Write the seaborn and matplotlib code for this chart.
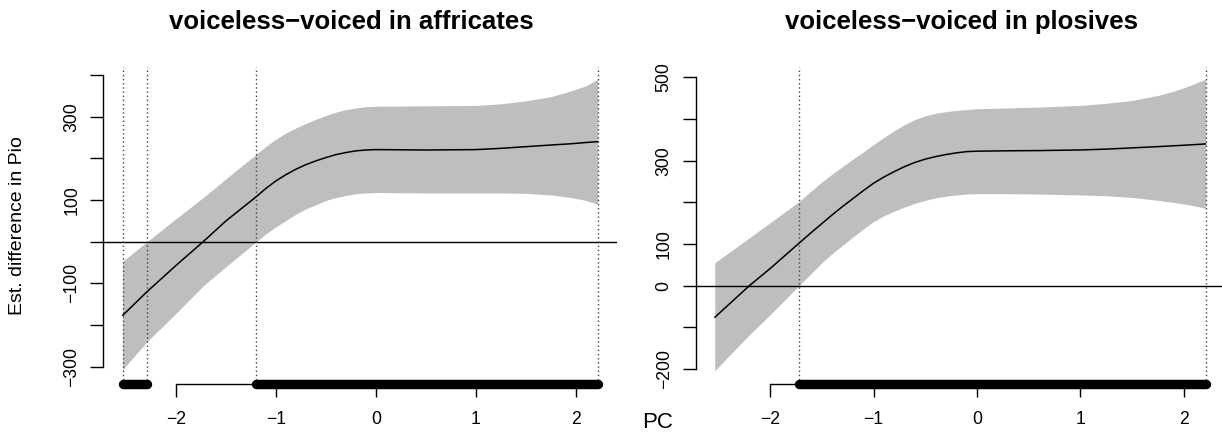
import matplotlib
matplotlib.use("Agg")
import matplotlib.pyplot as plt
import seaborn as sns
import numpy as np
import pandas as pd

# ---------------- data ----------------
titles = ["voiceless\u2212voiced in affricates", "voiceless\u2212voiced in plosives"]

aff_x = [-2.534, -2.29, -2.0, -1.728, -1.5, -1.197, -1.1, -1.0, -0.9, -0.8, -0.7,
         -0.6, -0.5, -0.4, -0.3, -0.2, -0.1, 0.0, 0.5, 1.0, 1.25, 1.5, 1.75,
         1.95, 2.1, 2.217]
aff_fit = [-177, -120, -57, 0, 50, 108, 128, 146, 161, 174, 185,
           194, 202, 209, 214, 218, 220, 221, 220, 221, 224, 228, 232,
           235, 238, 240]
aff_upper = [-47, 0, 55, 106, 151, 210, 229, 246, 261, 273, 284,
             294, 303, 311, 317, 321, 324, 325, 326, 327, 331, 338, 348,
             362, 374, 390]
aff_lower = [-307, -240, -172, -106, -60, 0, 19, 36, 51, 66, 79,
             89, 99, 106, 111, 115, 117, 118, 117, 117, 117, 116, 112,
             106, 99, 90]
aff_sig = [(-2.534, -2.29), (-1.197, 2.217)]

plo_x = [-2.534, -2.2, -2.0, -1.72, -1.6, -1.5, -1.4, -1.3, -1.2, -1.1, -1.0,
         -0.9, -0.8, -0.7, -0.6, -0.5, -0.4, -0.3, -0.2, -0.1, 0.0, 0.3, 0.6,
         1.0, 1.25, 1.5, 1.75, 1.9, 2.05, 2.21]
plo_fit = [-76, 0, 41, 102, 128, 149, 170, 190, 209, 228, 246,
           261, 274, 286, 296, 304, 310, 315, 319, 322, 323, 324, 324.5,
           326, 328, 331, 334, 336, 338, 340.5]
plo_upper = [55, 115, 151, 202, 228, 249, 268, 286, 304, 321, 339,
             356, 372, 387, 399, 408, 414, 418, 421, 423, 425, 427, 429,
             433, 438, 445, 457, 467, 480, 496]
plo_lower = [-204, -118, -70, 0, 30, 55, 77, 97, 117, 136, 154,
             168, 179, 189, 198, 205, 211, 215, 218, 220, 221, 221, 220,
             218, 216, 212, 205, 200, 194, 186]
plo_sig = [(-1.72, 2.21)]

x_ticks = [-2, -1, 0, 1, 2]
x_ticklabels = ["\u22122", "\u22121", "0", "1", "2"]
aff_yticks = [-300, -200, -100, 0, 100, 200, 300, 400]
aff_ylabels = ["\u2212300", "", "\u2212100", "", "100", "", "300", ""]
plo_yticks = [-200, -100, 0, 100, 200, 300, 400, 500]
plo_ylabels = ["\u2212200", "", "0", "100", "", "300", "", "500"]

ylabel = "Est. difference in Pio"
xlabel = "PC"

# ---------------- style ----------------
sns.set_style("white")
plt.rcParams["font.family"] = ["Liberation Sans", "DejaVu Sans"]
plt.rcParams["text.color"] = "black"
plt.rcParams["axes.labelcolor"] = "black"
plt.rcParams["xtick.color"] = "black"
plt.rcParams["ytick.color"] = "black"

W, H = 1222, 437
fig = plt.figure(figsize=(W / 100, H / 100), dpi=100)


def px_axes(x0, x1, ytop, ybot):
    return fig.add_axes([x0 / W, 1 - ybot / H, (x1 - x0) / W, (ybot - ytop) / H])


panels = [
    dict(rect=(103, 617, 67.5, 384), xlim=(-2.73, 2.41), ylim=(-341.5, 418),
         x=aff_x, fit=aff_fit, up=aff_upper, lo=aff_lower, sig=aff_sig,
         yt=aff_yticks, yl=aff_ylabels, yb=(-300, 400), title=titles[0], tx=351.5),
    dict(rect=(695.5, 1226, 67.5, 384), xlim=(-2.72, 2.406), ylim=(-236, 524),
         x=plo_x, fit=plo_fit, up=plo_upper, lo=plo_lower, sig=plo_sig,
         yt=plo_yticks, yl=plo_ylabels, yb=(-200, 500), title=titles[1], tx=961.6),
]

for p in panels:
    ax = px_axes(*p["rect"])
    ax.set_xlim(*p["xlim"])
    ax.set_ylim(*p["ylim"])
    ax.patch.set_alpha(0)
    df = pd.DataFrame({"x": p["x"], "fit": p["fit"], "up": p["up"], "lo": p["lo"]})
    ax.fill_between(df["x"], df["lo"], df["up"], color="#BEBEBE", lw=0, zorder=1)
    sns.lineplot(data=df, x="x", y="fit", ax=ax, color="black", lw=1.1, zorder=3)
    ax.axhline(0, color="black", lw=1.0, zorder=2)
    for a, b in p["sig"]:
        for v in (a, b):
            ax.axvline(v, color="#444444", lw=1.0, ls=(0, (1, 2)), zorder=2)
    starts = [a for a, b in p["sig"]]
    ends = [b for a, b in p["sig"]]
    lc = ax.hlines([p["ylim"][0]] * len(starts), starts, ends, colors="black",
                   linewidths=6.8, linestyles="solid", zorder=5)
    lc.set_capstyle("round")
    lc.set_clip_on(False)
    for s in ("top", "right"):
        ax.spines[s].set_visible(False)
    for s in ("left", "bottom"):
        ax.spines[s].set_color("black")
        ax.spines[s].set_linewidth(1.0)
    ax.spines["left"].set_bounds(*p["yb"])
    ax.spines["bottom"].set_bounds(-2, 2)
    ax.set_xticks(x_ticks)
    ax.set_xticklabels(x_ticklabels)
    ax.set_yticks(p["yt"])
    ax.set_yticklabels(p["yl"], rotation=90, va="center")
    ax.tick_params(axis="both", direction="out", length=9.4, width=1.0,
                   color="black", labelsize=12.7, labelcolor="black",
                   left=True, bottom=True)
    ax.tick_params(axis="x", pad=10)
    ax.tick_params(axis="y", pad=7)
    ax.set_xlabel("")
    ax.set_ylabel("")
    fig.text(p["tx"] / W, 1 - 22 / H, p["title"], ha="center", va="center",
             fontsize=18.5, fontweight="bold", color="black")

fig.text(18 / W, 1 - 226 / H, ylabel, rotation=90, ha="center", va="center",
         fontsize=14, color="black")
fig.text(658 / W, 1 - 423 / H, xlabel, ha="center", va="center", fontsize=16,
         color="black")

fig.savefig("out.png", dpi=100)
